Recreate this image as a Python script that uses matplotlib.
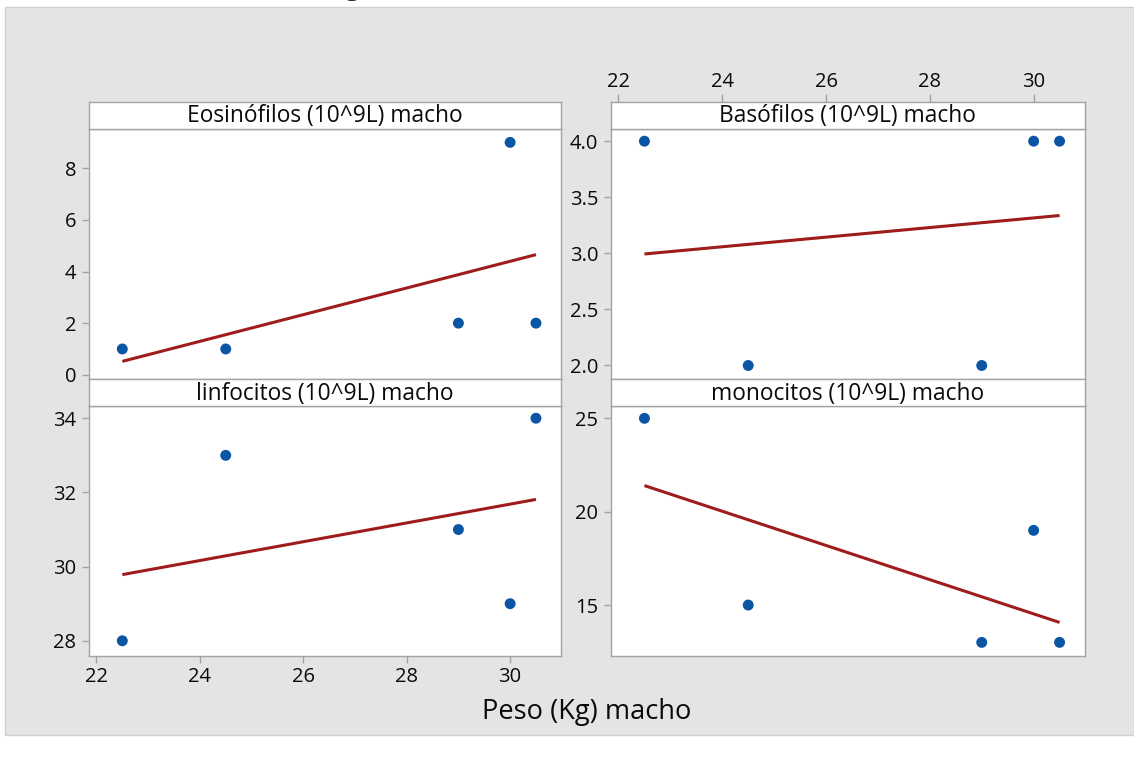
import numpy as np
import matplotlib
matplotlib.use("Agg")
import matplotlib.pyplot as plt
from matplotlib.patches import Rectangle

plt.rcParams['font.family'] = ['Open Sans', 'DejaVu Sans']

# Body weight (kg) of the males and their white-cell counts
peso = [22.5, 24.5, 29.0, 30.0, 30.5]
eosinofilos = [1, 1, 2, 9, 2]
basofilos = [4, 2, 2, 4, 4]
linfocitos = [28, 33, 31, 29, 34]
monocitos = [25, 15, 13, 19, 13]

titulos = ["Eosinófilos (10^9L) macho", "Basófilos (10^9L) macho",
           "linfocitos (10^9L) macho", "monocitos (10^9L) macho"]
x_ticks = [22, 24, 26, 28, 30]
y_ticks = [[0, 2, 4, 6, 8], [2.0, 2.5, 3.0, 3.5, 4.0],
           [28, 30, 32, 34], [15, 20, 25]]
x_label = "Peso (Kg) macho"

W, H = 1134, 758
fig = plt.figure(figsize=(W / 100, H / 100), dpi=100)
fig.patch.set_facecolor("white")

BG = "#e4e4e4"
EDGE = "#a3a3a3"
DOT = "#0a56a5"
FIT = "#9e1c1c"
INK = "#0a0a0a"
TICK_FS = 14.5

# gray canvas behind the panels
fig.patches.append(Rectangle((5 / W, 1 - 735 / H), 1 - 5 / W, (735 - 7) / H,
                             transform=fig.transFigure, facecolor=BG,
                             edgecolor="#d0d0d0", lw=1, zorder=-10))
# clipped title descender at the top edge
fig.text(352 / W, 1 + 6 / H, "g", ha="center", va="baseline", fontsize=20,
         color="#222222")

def px_box(x0, y0, x1, y1):
    return [x0 / W, 1 - y1 / H, (x1 - x0) / W, (y1 - y0) / H]

cols = [(88.7, 561.3), (610.7, 1085.0)]
rows = [(101.5, 128.5, 378.5), (378.5, 406.0, 656.0)]
ylims = [(-0.143, 9.537), (1.884, 4.113), (27.59, 34.33), (12.27, 25.66)]
xlim = (21.85, 30.99)
series = [eosinofilos, basofilos, linfocitos, monocitos]

x = np.array(peso)
for i, ys in enumerate(series):
    r, c = divmod(i, 2)
    x0, x1 = cols[c]
    s0, s1, p1 = rows[r]
    ax = fig.add_axes(px_box(x0, s1, x1, p1))
    ax.set_facecolor("white")
    y = np.array(ys, dtype=float)
    b, a = np.polyfit(x, y, 1)
    xf = np.array([x.min(), x.max()])
    ax.plot(xf, a + b * xf, color=FIT, lw=2.2, solid_capstyle="butt", zorder=2)
    ax.scatter(x, y, s=62, color=DOT, edgecolors="none", zorder=3)
    ax.set_xlim(*xlim)
    ax.set_ylim(*ylims[i])
    ax.set_yticks(y_ticks[i])
    if i == 1:
        ax.set_yticklabels([f"{v:.1f}" for v in y_ticks[i]])
    ax.set_xticks(x_ticks)
    ax.tick_params(axis="both", direction="out", length=5, width=1,
                   color=EDGE, labelsize=TICK_FS, labelcolor=INK, pad=4)
    if i == 2:
        ax.tick_params(axis="x", bottom=True, labelbottom=True, top=False,
                       pad=3)
    else:
        ax.tick_params(axis="x", bottom=False, labelbottom=False)
    for sp in ax.spines.values():
        sp.set_color(EDGE)
        sp.set_linewidth(1)

    # panel header strip
    sax = fig.add_axes(px_box(x0, s0, x1, s1))
    sax.set_facecolor("white")
    sax.set_yticks([])
    sax.set_xlim(*xlim)
    if i == 1:
        sax.set_xticks(x_ticks)
        sax.tick_params(axis="x", top=True, labeltop=True, bottom=False,
                        labelbottom=False, direction="out", length=6,
                        width=1, color=EDGE, labelsize=TICK_FS,
                        labelcolor=INK, pad=0.5)
    else:
        sax.set_xticks([])
    for sp in sax.spines.values():
        sp.set_color(EDGE)
        sp.set_linewidth(1)
    sax.text(0.5, 0.45, titulos[i], ha="center", va="center", fontsize=16.4,
             color=INK, transform=sax.transAxes)

fig.text(587 / W, 1 - 712 / H, x_label, ha="center", va="center",
         fontsize=19.6, color=INK)

fig.savefig("out.png", dpi=100, facecolor=fig.get_facecolor())
